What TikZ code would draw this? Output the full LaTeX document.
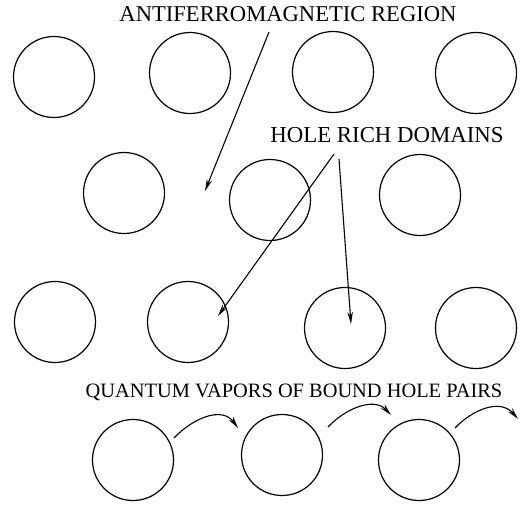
\documentclass[tikz,border=0pt]{standalone}
\usepackage{fontspec}
\setmainfont{Liberation Serif}
\usetikzlibrary{arrows.meta}
\begin{document}
\begin{tikzpicture}[x=1pt,y=-1pt,
  dom/.style={circle,draw,line width=1.2pt,minimum size=81pt,inner sep=0pt},
  lbl/.style={inner sep=0pt},
  arr/.style={line width=1.1pt,-{Stealth[length=12pt,width=5.5pt]}}]
\useasboundingbox (0,0) rectangle (532,506);
% row 1
\node[dom] (a1) at (54,77) {};
\node[dom] (a2) at (190,73) {};
\node[dom] (a3) at (333,72) {};
\node[dom] (a4) at (476,73) {};
% row 2
\node[dom] (b1) at (124,193) {};
\node[dom] (b2) at (270,200) {};
\node[dom] (b3) at (420,195) {};
% row 3
\node[dom] (c1) at (55,322) {};
\node[dom] (c2) at (188,322) {};
\node[dom] (c3) at (345,328) {};
\node[dom] (c4) at (476,328) {};
% row 4
\node[dom] (d1) at (133,460) {};
\node[dom] (d2) at (282,455) {};
\node[dom] (d3) at (419,460) {};
% labels
\node[lbl,font=\fontsize{22.6}{25}\selectfont] (t1) at (288,14) {ANTIFERROMAGNETIC REGION};
\node[lbl,font=\fontsize{22.8}{25}\selectfont] (t2) at (387,135) {HOLE RICH DOMAINS};
\node[lbl,font=\fontsize{20.4}{24}\selectfont] (t3) at (294,392) {QUANTUM VAPORS OF BOUND HOLE PAIRS};
% arrows
\coordinate (s1) at (269,32);
\coordinate (e1) at (205,191);
\coordinate (s2) at (334,154);
\coordinate (e2) at (218,316);
\coordinate (s3) at (339,159);
\coordinate (e3) at (351,324);
\draw[arr] (s1) -- (e1);
\draw[arr] (s2) -- (e2);
\draw[arr] (s3) -- (e3);
% hopping arrows
\coordinate (h1s) at (174,438);
\coordinate (h1e) at (238,428);
\coordinate (h2s) at (328,427);
\coordinate (h2e) at (391,415);
\coordinate (h3s) at (455,428);
\coordinate (h3e) at (518,419);
\draw[arr] (h1s) .. controls (193,418) and (222,406) .. (h1e);
\draw[arr] (h2s) .. controls (346,408) and (374,397) .. (h2e);
\draw[arr] (h3s) .. controls (472,410) and (500,398) .. (h3e);
\end{tikzpicture}
\end{document}
